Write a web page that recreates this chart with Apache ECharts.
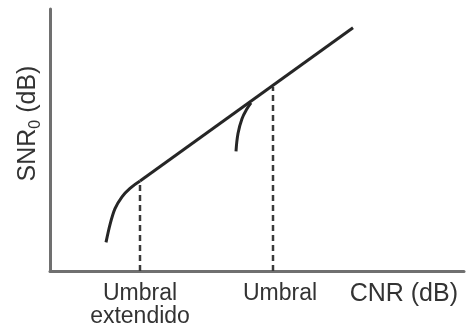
<!DOCTYPE html>
<html>
<head>
<meta charset="utf-8">
<script src="https://cdn.jsdelivr.net/npm/echarts@6/dist/echarts.min.js"></script>
<style>
html,body{margin:0;padding:0;background:#fff;}
#chart{width:468px;height:328px;}
</style>
</head>
<body>
<div id="chart"></div>
<script>
// Data (arbitrary dB-like units)
const mainLine = [[9.0, 9.1], [30.3, 24.6]];
const extendedCurve = [[5.6, 2.9], [6.0, 4.7], [6.5, 6.3], [7.2, 7.5], [8.0, 8.35], [9.0, 9.1]];
const conventionalCurve = [[18.6, 12.1], [18.8, 13.9], [19.2, 15.4], [19.7, 16.4], [20.1, 17.0]];
const thresholdX = [9.0, 22.3];
const thresholdY = [9.1, 18.6];
const tickLabels = ['Umbral\nextendido', 'Umbral'];
const xAxisName = 'CNR (dB)';
const yAxisName = ['SNR', '0', ' (dB)'];

const FONT = 'Liberation Sans, Arial, sans-serif';
const TXT = '#333333';
const chart = echarts.init(document.getElementById('chart'));

const dashedSeries = thresholdX.map((x, i) => ({
  type: 'line',
  data: [[x, 0], [x, thresholdY[i]]],
  symbol: 'none',
  silent: true,
  lineStyle: { color: '#3a3a3a', width: 2.5, type: [6, 4] },
  z: 1
}));

chart.setOption({
  animation: false,
  backgroundColor: '#ffffff',
  grid: { left: 50, right: 4, top: 9, bottom: 54 },
  xAxis: {
    type: 'value', min: 0, max: 41.4,
    axisLine: { show: true, lineStyle: { color: '#707070', width: 3 } },
    axisTick: { show: false },
    splitLine: { show: false },
    axisLabel: {
      customValues: thresholdX,
      margin: 11,
      fontFamily: FONT,
      fontSize: 23,
      lineHeight: 23,
      color: TXT,
      formatter: function (v) {
        const i = thresholdX.indexOf(v);
        if (i < 0) return '';
        return i === 1 ? '{u|' + tickLabels[i] + '}' : tickLabels[i];
      },
      rich: { u: { fontFamily: FONT, fontSize: 23, lineHeight: 23, color: TXT, padding: [0, 0, 0, 14] } }
    },
    name: xAxisName,
    nameLocation: 'end',
    nameGap: -6,
    nameTextStyle: { fontFamily: FONT, fontSize: 25, color: TXT, align: 'right', verticalAlign: 'top', padding: [11, 0, 0, 0] }
  },
  yAxis: {
    type: 'value', min: 0, max: 26.5,
    axisLine: { show: true, lineStyle: { color: '#707070', width: 3 } },
    axisTick: { show: false },
    splitLine: { show: false },
    axisLabel: { show: false },
    name: '{a|' + yAxisName[0] + '}{s|' + yAxisName[1] + '}{a|' + yAxisName[2] + '}',
    nameLocation: 'middle',
    nameGap: 9,
    nameRotate: 90,
    nameTextStyle: {
      padding: [0, 0, 0, 33],
      rich: {
        a: { fontFamily: FONT, fontSize: 25, color: TXT },
        s: { fontFamily: FONT, fontSize: 16, color: TXT, verticalAlign: 'bottom', padding: [0, 0, -3, 0] }
      }
    }
  },
  series: [
    ...dashedSeries,
    {
      type: 'line', data: mainLine, symbol: 'none', silent: true,
      lineStyle: { color: '#262626', width: 3 }, z: 3
    },
    {
      type: 'line', data: extendedCurve, symbol: 'none', smooth: 0.3, silent: true,
      lineStyle: { color: '#262626', width: 3 }, z: 3
    },
    {
      type: 'line', data: conventionalCurve, symbol: 'none', smooth: 0.4, silent: true,
      lineStyle: { color: '#262626', width: 3 }, z: 3
    }
  ]
});
</script>
</body>
</html>
